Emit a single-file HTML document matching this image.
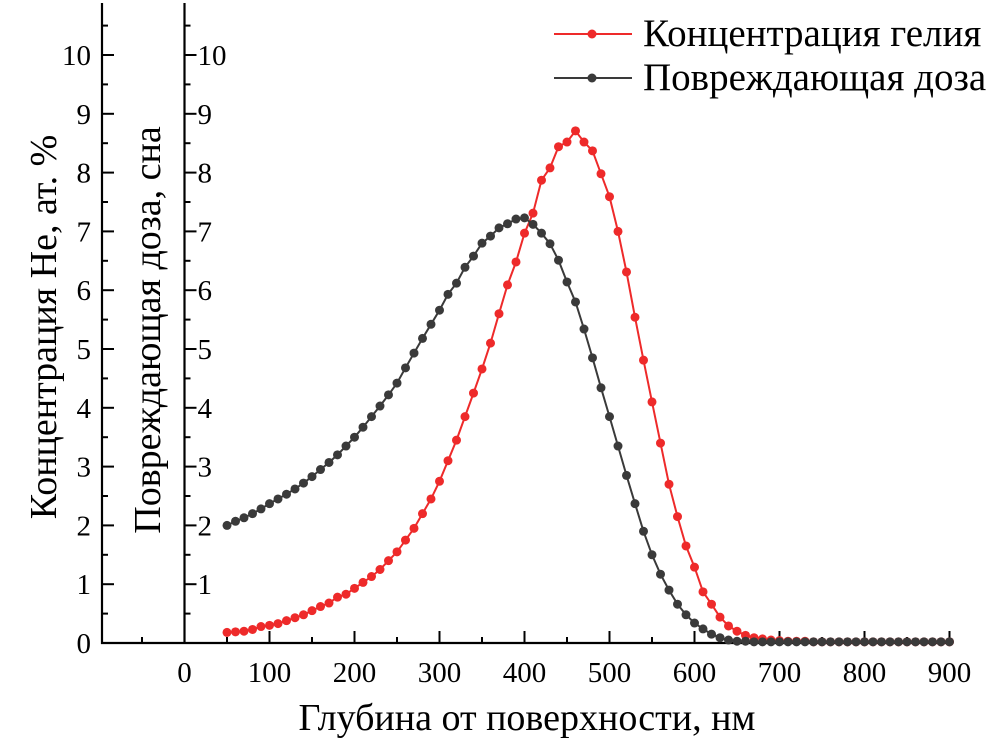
<!DOCTYPE html>
<html><head><meta charset="utf-8"><style>
body{margin:0;background:#fff}
svg{display:block;font-family:"Liberation Serif",serif}
</style></head><body>
<svg id="chart" width="1004" height="744" viewBox="0 0 1004 744"></svg>
<script>
const depths=[50,60,70,80,90,100,110,120,130,140,150,160,170,180,190,200,210,220,230,240,250,260,270,280,290,300,310,320,330,340,350,360,370,380,390,400,410,420,430,440,450,460,470,480,490,500,510,520,530,540,550,560,570,580,590,600,610,620,630,640,650,660,670,680,690,700,710,720,730,740,750,760,770,780,790,800,810,820,830,840,850,860,870,880,890,900];
const helium=[0.18,0.19,0.2,0.23,0.28,0.3,0.33,0.38,0.43,0.48,0.55,0.62,0.68,0.78,0.83,0.93,1.03,1.13,1.25,1.4,1.55,1.75,1.95,2.2,2.45,2.75,3.1,3.45,3.85,4.25,4.66,5.1,5.6,6.09,6.48,6.97,7.31,7.87,8.08,8.44,8.52,8.71,8.52,8.37,7.98,7.59,7.0,6.31,5.54,4.81,4.1,3.4,2.7,2.15,1.65,1.29,0.87,0.66,0.44,0.29,0.2,0.13,0.09,0.07,0.05,0.04,0.03,0.03,0.03,0.02,0.02,0.02,0.02,0.02,0.02,0.02,0.02,0.02,0.02,0.02,0.02,0.02,0.02,0.02,0.02,0.02];
const dose=[2.0,2.07,2.13,2.2,2.28,2.37,2.45,2.53,2.62,2.72,2.83,2.95,3.07,3.2,3.35,3.5,3.67,3.85,4.03,4.22,4.42,4.68,4.93,5.18,5.42,5.66,5.93,6.12,6.39,6.58,6.8,6.92,7.06,7.13,7.21,7.23,7.12,6.97,6.79,6.51,6.14,5.8,5.34,4.85,4.34,3.85,3.35,2.85,2.37,1.9,1.5,1.17,0.9,0.66,0.48,0.34,0.24,0.15,0.09,0.05,0.03,0.03,0.02,0.02,0.02,0.02,0.02,0.02,0.02,0.02,0.02,0.02,0.02,0.02,0.02,0.02,0.02,0.02,0.02,0.02,0.02,0.02,0.02,0.02,0.02,0.02];
const xTicks=[0,100,200,300,400,500,600,700,800,900];
const yTicks=[0,1,2,3,4,5,6,7,8,9,10];
const NS='http://www.w3.org/2000/svg';
const svg=document.getElementById('chart');
const X=v=>184.5+v*0.85;
const Y=v=>643-v*58.8;
function mk(t,a,p){const e=document.createElementNS(NS,t);for(const k in a)e.setAttribute(k,a[k]);(p||svg).appendChild(e);return e;}
const axL=mk('line',{x1:102,y1:3,x2:102,y2:644,stroke:'#000','stroke-width':2.2});


const axR=mk('line',{x1:X(0),y1:3,x2:X(0),y2:644,stroke:'#000','stroke-width':2.2});


const axX=mk('line',{x1:101,y1:643,x2:950,y2:643,stroke:'#000','stroke-width':2.2});


for(let i=0;i<=21;i++){const v=i/2,y=Y(v),len=(i%2?6:12);
 for(const ax of [102,X(0)]){const t=mk('line',{x1:ax,y1:y,x2:ax+len,y2:y,stroke:'#000','stroke-width':2});
 
 }}
yTicks.forEach(v=>{
 const a=mk('text',{x:91,y:Y(v)+10,'text-anchor':'end','font-size':29});a.textContent=v;
 
 
 if(v>0){const b=mk('text',{x:X(0)+13,y:Y(v)+10,'font-size':29});b.textContent=v;
 
 }
});
for(let v=-50;v<=900;v+=50){const len=(v%100?6:12);
 const t=mk('line',{x1:X(v),y1:643,x2:X(v),y2:643-len,stroke:'#000','stroke-width':2});
 
 }
xTicks.forEach(v=>{const t=mk('text',{x:X(v),y:682,'text-anchor':'middle','font-size':29});t.textContent=v;
 
 });
const tx=mk('text',{x:527,y:730,'text-anchor':'middle','font-size':38});tx.textContent='Глубина от поверхности, нм';


const t1=mk('text',{x:0,y:0,'text-anchor':'middle','font-size':38,transform:'translate(56,327) rotate(-90)'});t1.textContent='Концентрация He, ат. %';


const t2=mk('text',{x:0,y:0,'text-anchor':'middle','font-size':38,transform:'translate(160,330) rotate(-90)'});t2.textContent='Повреждающая доза, сна';


function series(vals,color,name){
 const g=mk('g',{});
 
 
 const pts=depths.map((d,i)=>X(d).toFixed(1)+','+Y(vals[i]).toFixed(1)).join(' ');
 const pl=mk('polyline',{points:pts,fill:'none',stroke:color,'stroke-width':2},g);
 
 
 depths.forEach((d,i)=>{const c=mk('circle',{cx:X(d),cy:Y(vals[i]),r:4.5,fill:color},g);
  
  });
}
series(helium,'#ee2a2a','helium-series');
series(dose,'#3a3a3a','dose-series');
function leg(y,color,label,name){
 const l=mk('line',{x1:554,y1:y,x2:632,y2:y,stroke:color,'stroke-width':2});
 
 
 const c=mk('circle',{cx:592,cy:y,r:4.5,fill:color});
 
 
 const t=mk('text',{x:643,y:y+12,'font-size':39});t.textContent=label;
 
 
}
leg(34,'#ee2a2a','Концентрация гелия','helium');
leg(78,'#3a3a3a','Повреждающая доза','dose');
</script>
</body></html>
